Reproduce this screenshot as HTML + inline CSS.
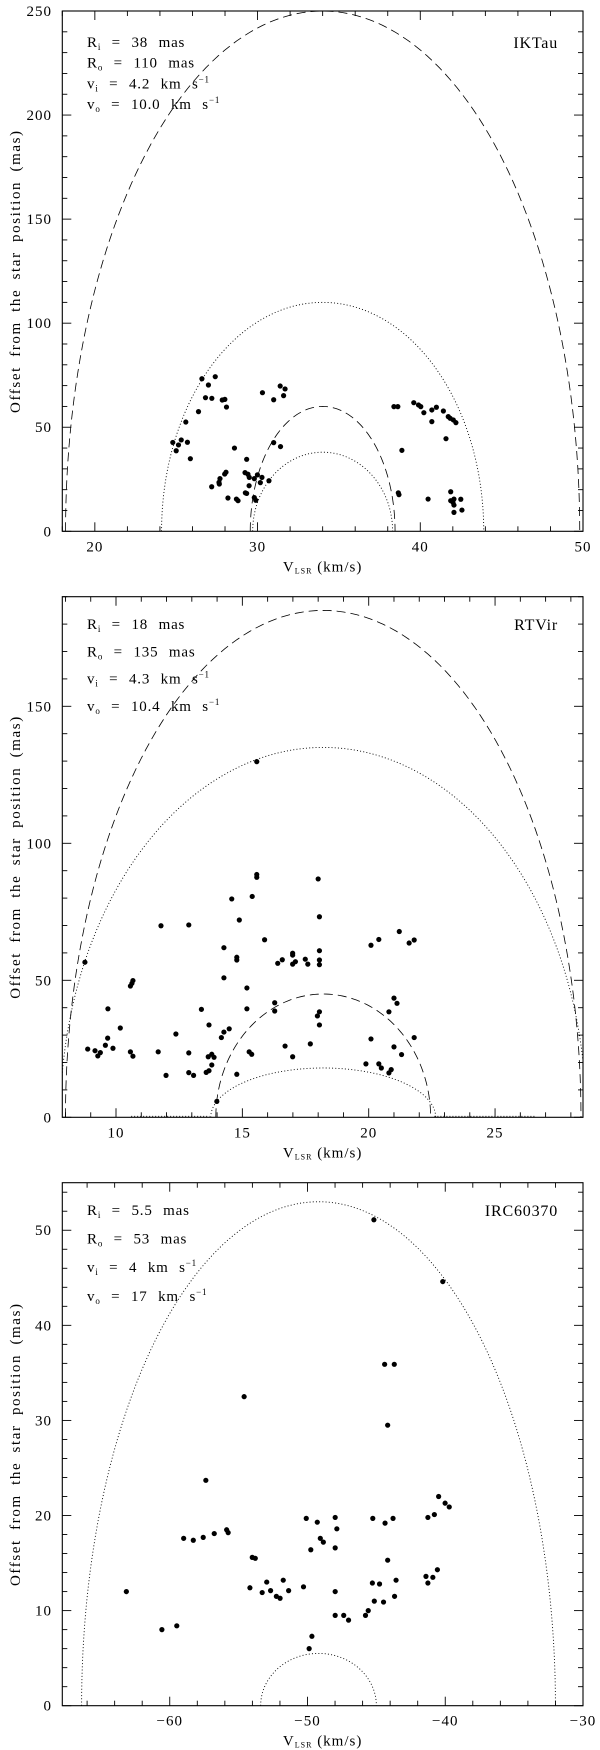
<!DOCTYPE html>
<html><head><meta charset="utf-8"><style>
body{margin:0;background:#fff;}
svg{display:block;font-family:"Liberation Serif",serif;}
</style></head><body>
<svg id="fig" width="600" height="1750" viewBox="0 0 600 1750" xmlns="http://www.w3.org/2000/svg"></svg>
<script>
// ---- Panel 1: IKTau ----
const p1V=[26.58,27.40,26.98,26.80,27.19,27.83,27.99,28.09,26.37,25.59,25.69,24.79,25.0,25.14,25.31,25.87,28.58,29.33,30.30,30.99,31.39,31.69,31.60,30.99,31.41,38.38,38.62,39.60,39.89,40.03,40.22,40.71,40.99,40.71,41.42,41.72,41.84,42.03,42.19,38.87,41.58,28.06,27.98,27.69,27.63,27.65,27.18,28.18,28.70,28.80,29.23,29.41,29.49,29.80,29.99,30.27,30.70,30.17,29.48,29.25,29.33,29.80,29.89,38.65,38.69,40.48,41.87,41.87,42.07,42.01,42.07,42.49,42.07,42.56];
const p1Off=[73.3,74.3,70.3,64.2,63.9,63.1,63.4,59.7,57.5,52.5,42.8,42.7,38.7,41.5,43.9,34.9,40.0,34.6,66.6,63.2,69.8,68.4,65.2,42.6,40.7,59.9,59.9,61.8,60.7,59.9,57.0,58.3,59.6,52.7,57.8,55.1,54.3,53.5,52.2,38.9,44.5,28.4,27.5,25.3,23.5,22.7,21.4,16.0,15.5,14.7,28.2,27.4,25.9,25.3,27.1,25.9,24.3,23.4,21.9,18.5,18.2,16.2,14.9,18.5,17.6,15.5,19.0,14.7,15.5,13.9,12.6,15.4,9.1,10.2];
const p1XTicks=[20,30,40,50];
const p1YTicks=[0,50,100,150,200,250];
const p1Shells=[[34.0,15.8,250,'dash'],[34.0,9.9,110,'dot'],[34.0,4.45,60,'dash'],[34.0,4.3,38,'dot']];
// ---- Panel 2: RTVir ----
const p2V=[8.77,8.88,9.17,9.28,9.38,9.58,9.67,9.68,9.88,10.17,10.57,10.63,10.67,10.57,10.67,11.67,11.78,11.98,12.37,12.88,12.88,12.88,13.07,13.38,13.68,13.65,13.79,13.88,13.79,13.57,13.68,13.99,14.17,14.27,14.48,14.27,14.27,14.78,14.78,14.78,14.88,15.18,15.18,15.27,15.37,15.88,16.28,16.28,16.40,16.58,16.69,16.99,16.99,16.99,17.1,16.99,17.49,17.59,17.69,18.05,18.05,18.05,18.05,17.97,18.05,18.05,18.0,20.09,20.4,21.21,21.6,21.8,20.8,21.0,21.12,20.09,21.8,21.0,21.3,15.57,15.57,15.57,14.58,15.39,19.89,20.4,20.5,20.8,20.89];
const p2Off=[56.6,24.9,24.3,22.4,23.6,26.3,28.9,39.6,25.2,32.6,47.9,48.9,49.9,23.9,22.3,23.9,69.9,15.3,30.4,70.2,23.5,16.3,15.3,39.4,33.7,22.1,23.0,21.9,19.1,16.4,17.0,5.8,29.1,31.1,32.3,61.9,50.9,58.4,57.4,15.7,72.0,47.2,39.6,23.9,23.0,64.8,41.8,38.8,56.2,57.5,26.0,59.9,59.2,55.9,56.8,22.1,57.7,55.9,26.8,73.2,60.8,57.4,55.7,37.0,38.5,33.7,87.0,62.8,64.9,67.8,63.6,64.7,38.5,43.5,41.6,28.6,29.1,25.7,22.9,129.8,88.6,87.6,79.7,80.6,19.5,19.5,18.0,16.2,17.4];
const p2XTicks=[10,15,20,25];
const p2YTicks=[0,50,100,150];
const p2Shells=[[18.2,10.2,185,'dash'],[18.2,10.4,135,'dot'],[18.2,4.25,45,'dash'],[18.2,4.45,18,'dot']];
// ---- Panel 3: IRC60370 ----
const p3V=[-45.18,-40.18,-44.4,-43.7,-44.18,-54.6,-57.38,-63.15,-60.57,-59.49,-58.99,-58.29,-57.57,-56.77,-55.87,-55.76,-54.01,-53.79,-54.18,-53.29,-52.96,-52.68,-52.26,-51.99,-51.76,-51.37,-50.29,-50.09,-49.76,-49.68,-49.88,-49.29,-49.07,-48.85,-47.99,-47.87,-47.99,-47.99,-47.99,-47.37,-47.02,-45.79,-45.59,-45.26,-45.29,-45.15,-44.77,-44.48,-44.37,-44.18,-43.79,-43.68,-43.57,-41.4,-41.26,-40.9,-40.57,-41.26,-40.79,-40.48,-40.01,-39.71];
const p3Off=[51.1,44.6,35.9,35.9,29.5,32.5,23.7,12.0,8.0,8.4,17.6,17.4,17.7,18.1,18.5,18.2,15.6,15.5,12.4,11.9,13.0,12.1,11.5,11.3,13.2,12.1,12.5,19.7,16.4,7.3,6.0,19.3,17.6,17.2,19.8,18.6,16.6,12.0,9.5,9.5,9.0,9.5,10.0,19.7,12.9,11.0,12.8,10.9,19.2,15.3,19.7,11.5,13.2,13.6,12.9,13.5,14.3,19.8,20.1,22.0,21.3,20.9];
const p3XTicks=[-60,-50,-40,-30];
const p3YTicks=[0,10,20,30,40,50];
const p3Shells=[[-49.2,17.2,53,'dot'],[-49.2,4.2,5.5,'dot']];

const NS='http://www.w3.org/2000/svg';
const svg=document.getElementById('fig');
function mk(tag,attrs,parent){const e=document.createElementNS(NS,tag);for(const k in attrs)e.setAttribute(k,attrs[k]);(parent||svg).appendChild(e);return e;}

function panel(cfg){
  const {id,x0,x1,yTop,yBot,xmin,xmax,ymax,xMinor,xMajor,yMinor,yMajor,V,O,xt,yt,shells,labels,labelY,labelGap,name,flat}=cfg;
  const g=mk('g',{});
  
  
  const sx=v=>x0+(v-xmin)/(xmax-xmin)*(x1-x0);
  const sy=o=>yBot-o/ymax*(yBot-yTop);
  const cid='clip-'+id;
  const cp=mk('clipPath',{id:cid},g);mk('rect',{x:x0,y:yTop,width:x1-x0,height:yBot-yTop},cp);
  const tg=mk('g',{stroke:'#000','stroke-width':0.9},g);
  
  
  const eps=1e-6;
  for(let v=Math.ceil(xmin/xMinor)*xMinor;v<=xmax+eps;v+=xMinor){
    const isMaj=Math.abs(v/xMajor-Math.round(v/xMajor))<1e-6;const L=isMaj?9:5;const X=sx(v);
    mk('line',{x1:X,y1:yBot,x2:X,y2:yBot-L},tg);mk('line',{x1:X,y1:yTop,x2:X,y2:yTop+L},tg);
  }
  for(let o=0;o<=ymax+eps;o+=yMinor){
    const isMaj=Math.abs(o/yMajor-Math.round(o/yMajor))<1e-6;const L=isMaj?9:5;const Y=sy(o);
    mk('line',{x1:x0,y1:Y,x2:x0+L,y2:Y},tg);mk('line',{x1:x1,y1:Y,x2:x1-L,y2:Y},tg);
  }
  const fr=mk('rect',{x:x0,y:yTop,width:x1-x0,height:yBot-yTop,fill:'none',stroke:'#000','stroke-width':1.1},g);
  
  
  xt.forEach(v=>{const t=mk('text',{x:sx(v),y:yBot+20,'font-size':15,'letter-spacing':'1','text-anchor':'middle'},g);t.textContent=(v<0?'\u2212'+(-v):v);
    
    });
  yt.forEach(o=>{const t=mk('text',{x:52,y:sy(o)+5,'font-size':15,'letter-spacing':'1','text-anchor':'end'},g);t.textContent=o;
    
    });
  const xtl=mk('text',{x:(x0+x1)/2,y:yBot+40,'font-size':15,'letter-spacing':'1','text-anchor':'middle'},g);
  xtl.innerHTML='V<tspan font-size="8" dy="2">LSR</tspan><tspan dy="-2"> (km/s)</tspan>';
  
  
  const cy=(yTop+yBot)/2;
  const ytl=mk('text',{x:20,y:cy,'font-size':15,'text-anchor':'middle','letter-spacing':'1.6','word-spacing':'4',transform:'rotate(-90 20 '+cy+')'},g);
  ytl.textContent='Offset from the star position (mas)';
  
  
  const sg=mk('g',{'clip-path':'url(#'+cid+')',fill:'none',stroke:'#000'},g);
  shells.forEach(s=>{const [c,a,b,st]=s;let d='';
    for(let i=0;i<=120;i++){const th=Math.PI*i/120;const v=c-a*Math.cos(th);const o=b*Math.sin(th);d+=(i?'L':'M')+sx(v).toFixed(2)+' '+sy(o).toFixed(2);}
    const p=mk('path',{d:d,'stroke-width':st==='dash'?0.8:0.9,'stroke-dasharray':st==='dash'?'9 5':'1 2.2'},sg);
    
    });
  (flat||[]).forEach(f=>{const l=mk('line',{x1:sx(f[0]),y1:yBot-1,x2:sx(f[1]),y2:yBot-1,'stroke-width':0.9,'stroke-dasharray':'1 2'},sg);
    
    });
  const pg=mk('g',{fill:'#000'},g);
  
  
  V.forEach((v,i)=>{const c=mk('circle',{cx:sx(v),cy:sy(O[i]),r:2.6},pg);
    
    });
  labels.forEach((L,i)=>{const t=mk('text',{x:87,y:labelY+i*labelGap+5,'font-size':15,'letter-spacing':'0.8','word-spacing':'6'},g);
    t.innerHTML=L[0]+'<tspan font-size="9" dy="3">'+L[1]+'</tspan><tspan dy="-3"> = '+L[2]+'</tspan>'+(L[3]?'<tspan font-size="9" dy="-6">\u22121</tspan>':'');
    
    });
  const nm=mk('text',{x:558,y:labelY+6,'font-size':16,'letter-spacing':'0.8','text-anchor':'end'},g);nm.textContent=name;
  
  
}

panel({id:'iktau',x0:62.3,x1:583,yTop:11,yBot:531.3,xmin:18,xmax:50,ymax:250,xMinor:2,xMajor:10,yMinor:10,yMajor:50,
  V:p1V,O:p1Off,xt:p1XTicks,yt:p1YTicks,shells:p1Shells,name:'IKTau',labelY:42,labelGap:20.7,
  labels:[['R','i','38 mas'],['R','o','110 mas'],['v','i','4.2 km s',1],['v','o','10.0 km s',1]]});
panel({id:'rtvir',x0:62.3,x1:583,yTop:596.7,yBot:1117.3,xmin:7.875,xmax:28.48,ymax:190,xMinor:1,xMajor:5,yMinor:10,yMajor:50,
  V:p2V,O:p2Off,xt:p2XTicks,yt:p2YTicks,shells:p2Shells,name:'RTVir',labelY:624,labelGap:27.3,flat:[[10.6,13.7],[22.6,26.6]],
  labels:[['R','i','18 mas'],['R','o','135 mas'],['v','i','4.3 km s',1],['v','o','10.4 km s',1]]});
panel({id:'irc60370',x0:62.3,x1:583,yTop:1182.7,yBot:1705.7,xmin:-67.8,xmax:-30,ymax:55,xMinor:2,xMajor:10,yMinor:2,yMajor:10,
  V:p3V,O:p3Off,xt:p3XTicks,yt:p3YTicks,shells:p3Shells,name:'IRC60370',labelY:1210,labelGap:28.6,
  labels:[['R','i','5.5 mas'],['R','o','53 mas'],['v','i','4 km s',1],['v','o','17 km s',1]]});
</script>
</body></html>
